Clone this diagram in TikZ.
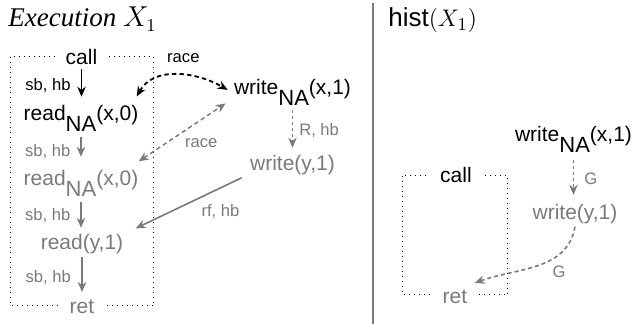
\documentclass[tikz,border=0pt]{standalone}
\usepackage{fontspec}
\setmainfont{Liberation Serif}
\setsansfont{Liberation Sans}
\usetikzlibrary{positioning,arrows.meta}

\definecolor{evgray}{RGB}{122,122,122}
\newcommand{\na}{\raisebox{-5.5pt}{\fontsize{11}{12}\selectfont NA}}

\begin{document}
\begin{tikzpicture}[x=0.5pt,y=0.5pt,
    ev/.style={font=\sffamily\fontsize{10.5}{12}\selectfont, inner sep=1pt, anchor=base},
    evg/.style={ev, text=evgray},
    gap/.style={fill=white, inner xsep=5pt},
    lbl/.style={font=\sffamily\fontsize{8.3}{9}\selectfont, inner sep=1pt},
    tip/.style={-{Stealth[length=5pt,width=4.2pt,inset=1.6pt]}},
    sbb/.style={tip, line width=0.9pt},
    sbg/.style={tip, evgray, line width=0.75pt},
    race/.style={{Stealth[length=5pt,width=4.2pt,inset=1.6pt]}-{Stealth[length=5pt,width=4.2pt,inset=1.6pt]}, dash pattern=on 2.2pt off 1.6pt, line width=0.9pt},
    gdash/.style={tip, evgray, dash pattern=on 2pt off 1.5pt, line width=0.8pt},
    box/.style={dotted, line width=0.5pt}]
\useasboundingbox (0,0) rectangle (634,-324);

% headings
\node[anchor=base west, inner sep=0] (ttl) at (8,-27) {\fontsize{13.5}{16}\selectfont\textit{Execution} $X_1$};
\node[anchor=base west, inner sep=0] (hst) at (388,-27) {\fontsize{13}{15}\selectfont\textsf{hist}$(X_1)$};
\draw[evgray, line width=0.9pt] (373,-3) -- (373,-324);

% execution X1
\draw[box] (11,-57) rectangle (154,-306);
\node[ev, gap] (call) at (81.5,-65) {call};
\node[ev] (rdA) at (81,-121) {read\na(x,0)};
\node[evg] (rdB) at (81,-186) {read\na(x,0)};
\node[evg] (rdy) at (82,-250) {read(y,1)};
\node[evg, gap] (ret) at (82,-314) {ret};
\node[ev] (wrx) at (292.5,-95) {write\na(x,1)};
\node[evg] (wry) at (292.5,-171) {write(y,1)};

\draw[sbb, shorten <=0.5pt, shorten >=3.3pt] (call.south) -- (call.south |- rdA.north)
    node[lbl, midway, left=4pt] {sb, hb};
\draw[sbg, shorten <=1.5pt, shorten >=5.8pt] (rdA.south) -- (rdB.north)
    node[lbl, midway, left=4pt] {sb, hb};
\draw[sbg, shorten <=1.5pt, shorten >=2.3pt] (rdB.south) -- (rdB.south |- rdy.north)
    node[lbl, midway, left=4pt] {sb, hb};
\draw[sbg, line width=1.1pt, shorten <=0.3pt, shorten >=3pt] (rdy.south) -- (rdy.south |- ret.north)
    node[lbl, midway, left=4pt] {sb, hb};

\draw[race] ([shift={(-2pt,3.5pt)}]rdA.north east) to[out=60, in=150]
    node[lbl, pos=0.56, above=5pt] {race} ([shift={(-2pt,1.5pt)}]wrx.west);
\draw[race, evgray, line width=0.75pt] ([shift={(-1pt,3.5pt)}]rdB.north east) --
    node[lbl, pos=0.72, below=8pt] {race} ([shift={(-3pt,2.5pt)}]wrx.south west);
\draw[gdash, dash pattern=on 1.5pt off 1.5pt, shorten <=1pt, shorten >=2.8pt] (wrx.south) -- (wry.north)
    node[lbl, midway, right=2pt] {R, hb};
\draw[sbg, line width=0.8pt] ([xshift=-3pt]wry.south west) --
    node[lbl, pos=0.2, below=7pt] {rf, hb} ([shift={(5pt,2pt)}]rdy.north east);

% hist(X1)
\draw[box] (403,-176) rectangle (508,-295);
\node[ev, gap] (hcall) at (456,-183) {call};
\node[evg, gap] (hret) at (455,-304) {ret};
\node[ev] (hwrx) at (573.5,-141.5) {write\na(x,1)};
\node[evg] (hwry) at (575,-220) {write(y,1)};

\draw[gdash, dash pattern=on 1.5pt off 1.5pt, shorten <=2.7pt, shorten >=3.8pt] (hwrx.south) -- (hwrx.south |- hwry.north)
    node[lbl, midway, right=4pt] {G};
\draw[gdash] (hwry.south) to[out=-100, in=20]
    node[lbl, pos=0.4, below right=1pt] {G} ([shift={(-1.5pt,2.5pt)}]hret.north east);
\end{tikzpicture}
\end{document}
